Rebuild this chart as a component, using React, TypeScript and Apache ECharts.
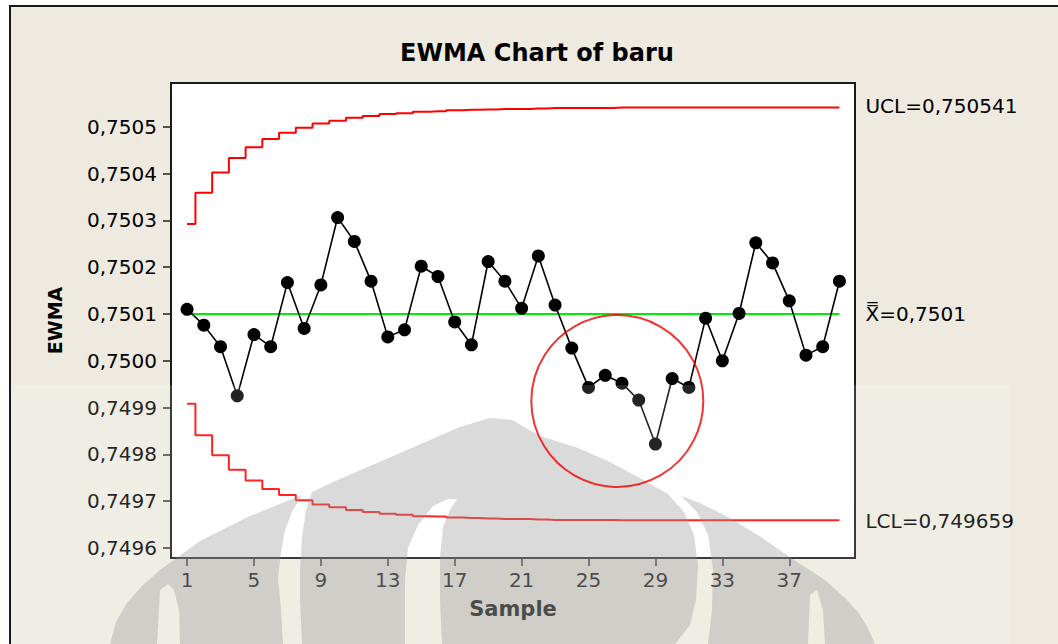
import React, { useEffect, useRef } from "react";
import * as echarts from "echarts";

// ---- data ----
const samples = [1, 2, 3, 4, 5, 6, 7, 8, 9, 10, 11, 12, 13, 14, 15, 16, 17, 18, 19, 20,
  21, 22, 23, 24, 25, 26, 27, 28, 29, 30, 31, 32, 33, 34, 35, 36, 37, 38, 39, 40];

const ewma = [
  0.750110, 0.750076, 0.750030, 0.749925, 0.750056, 0.750030, 0.750167, 0.750069, 0.750162, 0.750306,
  0.750255, 0.750170, 0.750051, 0.750066, 0.750202, 0.750180, 0.750083, 0.750034, 0.750212, 0.750170,
  0.750112, 0.750224, 0.750119, 0.750027, 0.749943, 0.749969, 0.749952, 0.749916, 0.749822, 0.749962,
  0.749943, 0.750091, 0.750000, 0.750101, 0.750252, 0.750209, 0.750128, 0.750012, 0.750030, 0.750170,
];

const ucl = [
  0.750292, 0.750359, 0.750402, 0.750433, 0.750456, 0.750474, 0.750487, 0.750498, 0.750507, 0.750513,
  0.750519, 0.750523, 0.750527, 0.750529, 0.750532, 0.750533, 0.750535, 0.750536, 0.750537, 0.750538,
  0.750538, 0.750539, 0.750540, 0.750540, 0.750540, 0.750540, 0.750541, 0.750541, 0.750541, 0.750541,
  0.750541, 0.750541, 0.750541, 0.750541, 0.750541, 0.750541, 0.750541, 0.750541, 0.750541, 0.750541,
];

const lcl = [
  0.749908, 0.749841, 0.749798, 0.749767, 0.749744, 0.749726, 0.749713, 0.749702, 0.749693, 0.749687,
  0.749681, 0.749677, 0.749673, 0.749671, 0.749668, 0.749667, 0.749665, 0.749664, 0.749663, 0.749662,
  0.749662, 0.749661, 0.749660, 0.749660, 0.749660, 0.749660, 0.749659, 0.749659, 0.749659, 0.749659,
  0.749659, 0.749659, 0.749659, 0.749659, 0.749659, 0.749659, 0.749659, 0.749659, 0.749659, 0.749659,
];

const centerValue = 0.7501;
const yTicks = [0.7496, 0.7497, 0.7498, 0.7499, 0.75, 0.7501, 0.7502, 0.7503, 0.7504, 0.7505];
const xTicks = [1, 5, 9, 13, 17, 21, 25, 29, 33, 37];

const titleText = "EWMA Chart of baru";
const uclText = "UCL=0,750541";
const clText = "X\u033F=0,7501";
const lclText = "LCL=0,749659";
const xName = "Sample";
const yName = "EWMA";

// circled region (annotation) in data coordinates
const highlight = [26.72, 0.749914];

// ---- watermark shapes (decoration) ----
const wmBands = [
  [[110, 644], [116, 622], [127, 603], [142, 586], [160, 570], [200, 541], [250, 516], [302, 495], [292, 512], [285, 530], [281, 552], [278, 578], [281, 610], [283, 644], [180, 644], [179, 610], [174, 590], [168, 584], [160, 590], [157, 644]],
  [[302, 644], [300, 600], [300, 570], [302, 537], [306, 510], [312, 492], [333, 482], [370, 466], [400, 453], [430, 440], [460, 427], [490, 418], [512, 420], [540, 436], [578, 448], [610, 462], [640, 478], [668, 494], [684, 512], [694, 535], [698, 565], [696, 600], [690, 625], [675, 644], [442, 644], [440, 600], [440, 557], [443, 527], [450, 510], [457, 499], [448, 499], [433, 506], [418, 525], [408, 548], [405, 580], [405, 644]],
  [[681, 496], [700, 503], [728, 517], [761, 537], [791, 558], [825, 580], [845, 598], [858, 612], [868, 628], [875, 644], [825, 644], [823, 610], [817, 590], [810, 595], [808, 644], [708, 644], [712, 610], [713, 570], [708, 535], [697, 512]],
];

const FONT = "DejaVu Sans";

function buildOption() {
  const pair = (arr: number[]) => arr.map((v, i) => [samples[i], v]);
  const labelCommon = {
    show: true,
    color: "#000",
    fontSize: 20,
    fontFamily: FONT,
    distance: 26,
  };
  return {
    animation: false,
    textStyle: { fontFamily: FONT },
    grid: {
      left: 171,
      top: 83,
      width: 684,
      height: 475,
      show: true,
      backgroundColor: "#ffffff",
      borderColor: "#1a1a1a",
      borderWidth: 2,
    },
    xAxis: {
      type: "value",
      min: 0.04,
      max: 40.93,
      axisLine: { show: false },
      splitLine: { show: false },
      axisTick: {
        show: true,
        customValues: xTicks,
        length: 8,
        lineStyle: { color: "#222", width: 1.5 },
      },
      axisLabel: {
        customValues: xTicks,
        fontSize: 20,
        color: "#000",
        margin: 12,
        fontFamily: FONT,
      },
      name: xName,
      nameLocation: "middle",
      nameGap: 40,
      nameTextStyle: { fontWeight: "bold", fontSize: 21, color: "#000", fontFamily: FONT },
    },
    yAxis: {
      type: "value",
      min: 0.7495786,
      max: 0.7505934,
      axisLine: { show: false },
      splitLine: { show: false },
      axisTick: {
        show: true,
        customValues: yTicks,
        length: 8,
        lineStyle: { color: "#222", width: 1.5 },
      },
      axisLabel: {
        customValues: yTicks,
        fontSize: 20,
        color: "#000",
        margin: 14,
        fontFamily: FONT,
        formatter: (v: number) => v.toFixed(4).replace(".", ","),
      },
      name: yName,
      nameLocation: "middle",
      nameGap: 107,
      nameRotate: 90,
      nameTextStyle: { fontWeight: "bold", fontSize: 19, color: "#000", fontFamily: FONT },
    },
    graphic: {
      elements: [
        {
          type: "text",
          x: 537,
          y: 53,
          z: 10,
          style: {
            text: titleText,
            fontFamily: FONT,
            fontWeight: "bold",
            fontSize: 24,
            fill: "#000",
            textAlign: "center",
            textVerticalAlign: "middle",
          },
        },
        {
          type: "rect",
          z: 100,
          silent: true,
          shape: { x: 11, y: 385, width: 999, height: 259 },
          style: { fill: "rgba(255,255,255,0.14)" },
        },
        ...wmBands.map((pts) => ({
          type: "polygon",
          z: 101,
          silent: true,
          shape: { points: pts },
          style: { fill: "rgba(150,150,150,0.35)" },
        })),
      ],
    },
    series: [
      {
        type: "line",
        name: "UCL",
        data: pair(ucl),
        step: "middle",
        showSymbol: false,
        silent: true,
        lineStyle: { color: "#ff0000", width: 2 },
        endLabel: { ...labelCommon, formatter: uclText, offset: [0, -2] },
        z: 3,
      },
      {
        type: "line",
        name: "LCL",
        data: pair(lcl),
        step: "middle",
        showSymbol: false,
        silent: true,
        lineStyle: { color: "#ff0000", width: 2 },
        endLabel: { ...labelCommon, formatter: lclText, offset: [0, 1] },
        z: 3,
      },
      {
        type: "line",
        name: "CL",
        data: [[samples[0], centerValue], [samples[samples.length - 1], centerValue]],
        showSymbol: false,
        silent: true,
        lineStyle: { color: "#00ee00", width: 2 },
        endLabel: { ...labelCommon, formatter: clText, offset: [0, 0] },
        z: 3,
      },
      {
        type: "scatter",
        name: "highlight",
        data: [highlight],
        symbol: "circle",
        symbolSize: 172,
        silent: true,
        itemStyle: { color: "rgba(0,0,0,0)", borderColor: "#ee0000", borderWidth: 2 },
        z: 110,
      },
      {
        type: "line",
        name: "EWMA",
        data: pair(ewma),
        symbol: "circle",
        symbolSize: 13,
        showAllSymbol: true,
        lineStyle: { color: "#000", width: 1.6 },
        itemStyle: { color: "#000" },
        z: 5,
      },
    ],
  };
}

export default function App() {
  const ref = useRef<HTMLDivElement | null>(null);
  useEffect(() => {
    if (!ref.current) return;
    const chart = echarts.init(ref.current, null, { renderer: "svg" });
    chart.setOption(buildOption() as any);
    return () => chart.dispose();
  }, []);
  return (
    <div style={{ position: "fixed", left: 0, top: 0, width: 1058, height: 644, background: "#ffffff", overflow: "hidden" }}>
      <div
        style={{
          position: "absolute",
          left: 9,
          top: 5,
          right: 0,
          bottom: 0,
          background: "#EEEAE0",
          borderLeft: "2px solid #1a1a1a",
          borderTop: "2px solid #1a1a1a",
        }}
      />
      <div ref={ref} style={{ position: "absolute", left: 0, top: 0, width: 1058, height: 644 }} />
    </div>
  );
}
